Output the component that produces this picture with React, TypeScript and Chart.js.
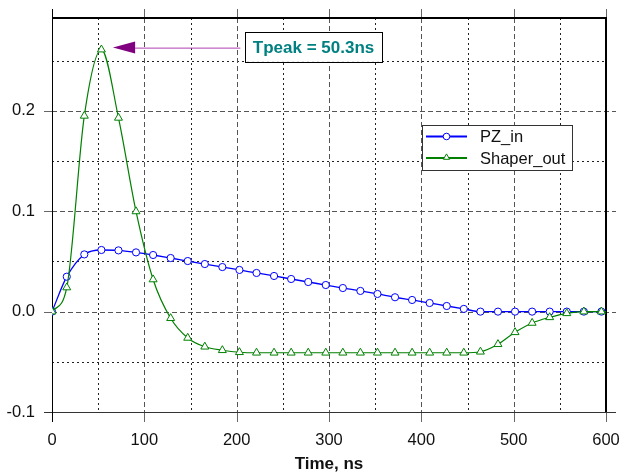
import React, { useEffect, useRef } from "react";
import { Chart, registerables } from "chart.js";

Chart.register(...registerables);

// ---- data ----
const TIME_NS = [
  0, 16, 35, 53.5, 72, 91, 109.5, 128.5, 147, 165.5, 184.5, 203, 221.5, 240.5,
  259, 277.5, 296.5, 315, 334, 352.5, 371.5, 390, 409, 427.5, 446, 464, 483,
  501.5, 520, 539, 557.5, 576, 595, 600,
];
const PZ_IN = [
  0, 0.0348, 0.057, 0.0614, 0.061, 0.059, 0.0564, 0.0534, 0.0504, 0.0474,
  0.0444, 0.0415, 0.0385, 0.0355, 0.0325, 0.0295, 0.0265, 0.0235, 0.0206,
  0.0176, 0.0143, 0.0116, 0.0086, 0.0056, 0.0027, 0, 0, 0, 0, 0, 0, 0, 0, 0,
];
const SHAPER_OUT = [
  0, 0.024, 0.195, 0.261, 0.193, 0.0998, 0.032, -0.0066, -0.0262, -0.035,
  -0.0385, -0.0405, -0.041, -0.041, -0.041, -0.041, -0.041, -0.041, -0.041,
  -0.041, -0.041, -0.041, -0.041, -0.041, -0.041, -0.04, -0.0325, -0.0206,
  -0.0113, -0.0057, -0.0017, 0, 0, 0,
];
const SERIES_NAMES = ["PZ_in", "Shaper_out"];
const X_TICKS = [0, 100, 200, 300, 400, 500, 600];
const X_MINOR = [50, 150, 250, 350, 450, 550];
const Y_TICKS = [-0.1, 0, 0.1, 0.2];
const Y_MINOR = [-0.05, 0.05, 0.15, 0.25];
const X_TITLE = "Time, ns";
const ANNOTATION_TEXT = "Tpeak = 50.3ns";

const FONT = '"Liberation Sans", Arial, sans-serif';
const BLUE = "#0000ff";
const GREEN = "#008000";

function drawTriangle(ctx: CanvasRenderingContext2D, cx: number, cy: number, r: number) {
  ctx.beginPath();
  ctx.moveTo(cx, cy - r);
  ctx.lineTo(cx + r * 0.866, cy + r * 0.5);
  ctx.lineTo(cx - r * 0.866, cy + r * 0.5);
  ctx.closePath();
}

const gridPlugin = {
  id: "gridFrame",
  beforeDatasetsDraw(chart: any) {
    const { ctx, chartArea: a, scales } = chart;
    const x = scales.x;
    const y = scales.y;
    const seg = (x1: number, y1: number, x2: number, y2: number) => {
      ctx.beginPath();
      ctx.moveTo(x1, y1);
      ctx.lineTo(x2, y2);
      ctx.stroke();
    };
    ctx.save();
    ctx.lineWidth = 1;
    // minor dotted
    ctx.setLineDash([2, 3]);
    ctx.strokeStyle = "#222";
    X_MINOR.forEach((v) => {
      const p = Math.round(x.getPixelForValue(v)) + 0.5;
      seg(p, a.top, p, a.bottom);
    });
    Y_MINOR.forEach((v) => {
      const p = Math.round(y.getPixelForValue(v)) + 0.5;
      seg(a.left, p, a.right, p);
    });
    // major dashed
    ctx.setLineDash([5, 3]);
    ctx.strokeStyle = "#555";
    X_TICKS.forEach((v) => {
      if (v === X_TICKS[0]) return;
      const p = Math.round(x.getPixelForValue(v)) + 0.5;
      seg(p, a.top, p, a.bottom);
    });
    Y_TICKS.forEach((v) => {
      if (v === Y_TICKS[0]) return;
      const p = Math.round(y.getPixelForValue(v)) + 0.5;
      seg(a.left, p, a.right + 10, p);
    });
    // outside tick marks
    ctx.setLineDash([]);
    ctx.strokeStyle = "#666";
    X_TICKS.forEach((v) => {
      const p = Math.round(x.getPixelForValue(v)) + 0.5;
      seg(p, a.top - 9, p, a.top);
      seg(p, a.bottom, p, a.bottom + 10);
    });
    Y_TICKS.forEach((v) => {
      const p = Math.round(y.getPixelForValue(v)) + 0.5;
      seg(a.left - 8, p, a.left, p);
    });
    // frame
    ctx.strokeStyle = "#333";
    const b = Math.round(a.bottom) + 0.5;
    seg(a.left - 8, b, a.right + 10, b);
    ctx.strokeStyle = "#000";
    const l = Math.round(a.left) + 0.5;
    seg(l, a.top - 9, l, a.bottom + 10);
    ctx.lineWidth = 2;
    seg(a.left, Math.round(a.top), a.right + 1, Math.round(a.top));
    seg(Math.round(a.right), a.top, Math.round(a.right), a.bottom);
    ctx.restore();
  },
};

const overlayPlugin = {
  id: "overlay",
  afterDraw(chart: any) {
    const { ctx, chartArea: a, scales } = chart;
    const x = scales.x;
    const y = scales.y;
    ctx.save();

    // ---- annotation arrow + box ----
    const tipX = x.getPixelForValue(66);
    const tipY = y.getPixelForValue(0.263);
    const headBase = x.getPixelForValue(90);
    const tailX = x.getPixelForValue(204);
    ctx.strokeStyle = "#b040b0";
    ctx.lineWidth = 1;
    ctx.beginPath();
    ctx.moveTo(headBase, tipY + 0.5);
    ctx.lineTo(tailX, tipY + 0.5);
    ctx.stroke();
    ctx.fillStyle = "#800080";
    ctx.beginPath();
    ctx.moveTo(tipX, tipY);
    ctx.lineTo(headBase, tipY - 6);
    ctx.lineTo(headBase, tipY + 6);
    ctx.closePath();
    ctx.fill();

    const bx1 = x.getPixelForValue(209);
    const bx2 = x.getPixelForValue(357.5);
    const by1 = y.getPixelForValue(0.2786);
    const by2 = y.getPixelForValue(0.2488);
    ctx.fillStyle = "#fff";
    ctx.fillRect(bx1, by1, bx2 - bx1, by2 - by1);
    ctx.strokeStyle = "#000";
    ctx.lineWidth = 1;
    ctx.strokeRect(Math.round(bx1) + 0.5, Math.round(by1) + 0.5, Math.round(bx2 - bx1), Math.round(by2 - by1));
    ctx.fillStyle = "#008080";
    ctx.font = `bold 17px ${FONT}`;
    ctx.textAlign = "center";
    ctx.textBaseline = "middle";
    ctx.fillText(ANNOTATION_TEXT, (bx1 + bx2) / 2, (by1 + by2) / 2 + 1);

    // ---- legend ----
    const lx = a.right - 184;
    const ly = a.top + 107;
    const lw = 150;
    const lh = 45;
    ctx.fillStyle = "#fff";
    ctx.fillRect(lx, ly, lw, lh);
    ctx.strokeStyle = "#333";
    ctx.strokeRect(Math.round(lx) + 0.5, Math.round(ly) + 0.5, lw, lh);
    const rows = [
      { name: SERIES_NAMES[0], color: BLUE, marker: "circle", cy: ly + 11.5 },
      { name: SERIES_NAMES[1], color: GREEN, marker: "triangle", cy: ly + 33 },
    ];
    rows.forEach((r) => {
      ctx.strokeStyle = r.color;
      ctx.lineWidth = 2;
      ctx.beginPath();
      ctx.moveTo(lx + 4, r.cy);
      ctx.lineTo(lx + 45, r.cy);
      ctx.stroke();
      ctx.lineWidth = 1;
      ctx.fillStyle = "#fff";
      if (r.marker === "circle") {
        ctx.beginPath();
        ctx.arc(lx + 24.5, r.cy, 3.3, 0, Math.PI * 2);
      } else {
        drawTriangle(ctx, lx + 24.5, r.cy - 0.5, 3.6);
      }
      ctx.fill();
      ctx.stroke();
      ctx.fillStyle = "#111";
      ctx.font = `16.5px ${FONT}`;
      ctx.textAlign = "left";
      ctx.textBaseline = "middle";
      ctx.fillText(r.name, lx + 58, r.cy + 1);
    });
    ctx.restore();
  },
};

export default function App() {
  const ref = useRef<HTMLCanvasElement | null>(null);
  useEffect(() => {
    if (!ref.current) return;
    const chart = new Chart(ref.current, {
      type: "line",
      data: {
        datasets: [
          {
            label: SERIES_NAMES[1],
            data: TIME_NS.map((t, i) => ({ x: t, y: SHAPER_OUT[i] })),
            borderColor: GREEN,
            backgroundColor: "#fff",
            borderWidth: 1.2,
            pointStyle: "triangle",
            pointRadius: (c: any) => (c.dataIndex === TIME_NS.length - 1 ? 0 : 4.6),
            pointBorderWidth: 1,
            pointBackgroundColor: "#fff",
            pointBorderColor: GREEN,
            cubicInterpolationMode: "monotone",
            order: 0,
          },
          {
            label: SERIES_NAMES[0],
            data: TIME_NS.map((t, i) => ({ x: t, y: PZ_IN[i] })),
            borderColor: BLUE,
            backgroundColor: "#fff",
            borderWidth: 1.3,
            pointStyle: "circle",
            pointRadius: (c: any) => (c.dataIndex === TIME_NS.length - 1 ? 0 : 3.6),
            pointBorderWidth: 1,
            pointBackgroundColor: "#fff",
            pointBorderColor: BLUE,
            cubicInterpolationMode: "monotone",
            order: 1,
          },
        ],
      },
      options: {
        animation: false,
        responsive: false,
        events: [],
        layout: { padding: { left: 0, top: 18, right: 15, bottom: 0 } },
        plugins: {
          legend: { display: false },
          tooltip: { enabled: false },
        },
        scales: {
          x: {
            type: "linear",
            min: 0,
            max: 600,
            grid: { display: false, drawTicks: false },
            border: { display: false },
            afterBuildTicks: (s: any) => {
              s.ticks = X_TICKS.map((v) => ({ value: v }));
            },
            afterFit: (s: any) => {
              s.height = 63;
              s.paddingLeft = 0;
              s.paddingRight = 0;
            },
            ticks: {
              padding: 19,
              color: "#111",
              font: { family: FONT, size: 16.5 },
              maxRotation: 0,
              callback: (v: any) => String(v),
            },
            title: {
              display: true,
              text: X_TITLE,
              color: "#111",
              font: { family: FONT, size: 17, weight: "bold" },
              padding: { top: 0, bottom: 0 },
            },
          },
          y: {
            type: "linear",
            min: -0.1,
            max: 0.2925,
            grid: { display: false, drawTicks: false },
            border: { display: false },
            afterBuildTicks: (s: any) => {
              s.ticks = Y_TICKS.map((v) => ({ value: v }));
            },
            afterFit: (s: any) => {
              s.width = 52;
              s.paddingTop = 0;
              s.paddingBottom = 0;
            },
            ticks: {
              padding: 17,
              color: "#111",
              font: { family: FONT, size: 16.5 },
              callback: (v: any) => Number(v).toFixed(1),
            },
          },
        },
      },
      plugins: [gridPlugin, overlayPlugin],
    } as any);
    return () => chart.destroy();
  }, []);
  return (
    <div style={{ position: "fixed", left: 0, top: 0, width: 621, height: 475, background: "#fff" }}>
      <canvas ref={ref} width={621} height={475} style={{ display: "block" }} />
    </div>
  );
}
